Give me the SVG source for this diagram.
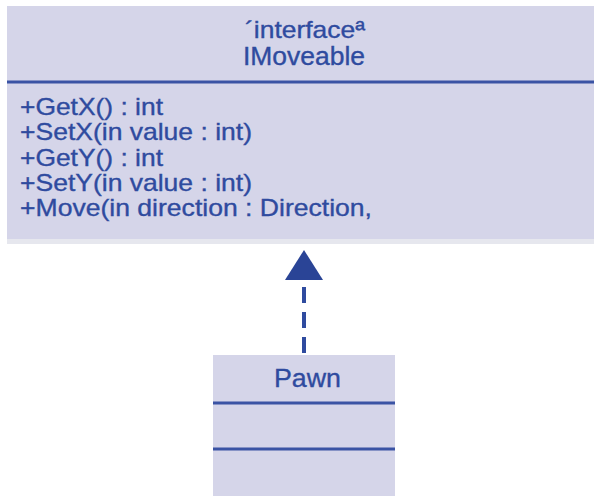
<svg xmlns="http://www.w3.org/2000/svg" width="594" height="496" viewBox="0 0 594 496">
<defs>
<style>
.box{fill:#d5d5e9}
.sep{stroke:#3a53a4;stroke-width:3}
.t{font-family:"Liberation Sans",Arial,sans-serif;fill:#2f4b9f;stroke:#2f4b9f;stroke-width:0.35}
.m{font-size:24px}
</style>
</defs>
<rect width="594" height="496" fill="#ffffff"/>
<g id="IMoveable">
<rect x="7" y="239" width="600" height="5" fill="#e6e7ee"/>
<rect class="box" x="7" y="6" width="600" height="233"/>
<line class="sep" x1="7" y1="82" x2="594" y2="82"/>
<text class="t" x="245" y="38" font-size="24" textLength="120" lengthAdjust="spacingAndGlyphs">´interfaceª</text>
<text class="t" x="243" y="65" font-size="25" textLength="122" lengthAdjust="spacingAndGlyphs">IMoveable</text>
<text class="t m" x="20" y="115" textLength="143" lengthAdjust="spacingAndGlyphs">+GetX() : int</text>
<text class="t m" x="20" y="140" textLength="232" lengthAdjust="spacingAndGlyphs">+SetX(in value : int)</text>
<text class="t m" x="20" y="166" textLength="143" lengthAdjust="spacingAndGlyphs">+GetY() : int</text>
<text class="t m" x="20" y="191" textLength="232" lengthAdjust="spacingAndGlyphs">+SetY(in value : int)</text>
<text class="t m" x="20" y="216" textLength="352" lengthAdjust="spacingAndGlyphs">+Move(in direction : Direction,</text>
</g>
<g id="Pawn">
<rect class="box" x="213" y="355" width="182" height="145"/>
<line class="sep" x1="213" y1="403" x2="395" y2="403"/>
<line class="sep" x1="213" y1="449" x2="395" y2="449"/>
<text class="t" x="274" y="387" font-size="26" textLength="67" lengthAdjust="spacingAndGlyphs">Pawn</text>
</g>
<g id="connectors">
<line x1="304" y1="353" x2="304" y2="284" stroke="#2f4b9f" stroke-width="4" stroke-dasharray="16,9"/>
<polygon points="304,250 285,280 323,280" fill="#2a4496"/>
</g>
</svg>
